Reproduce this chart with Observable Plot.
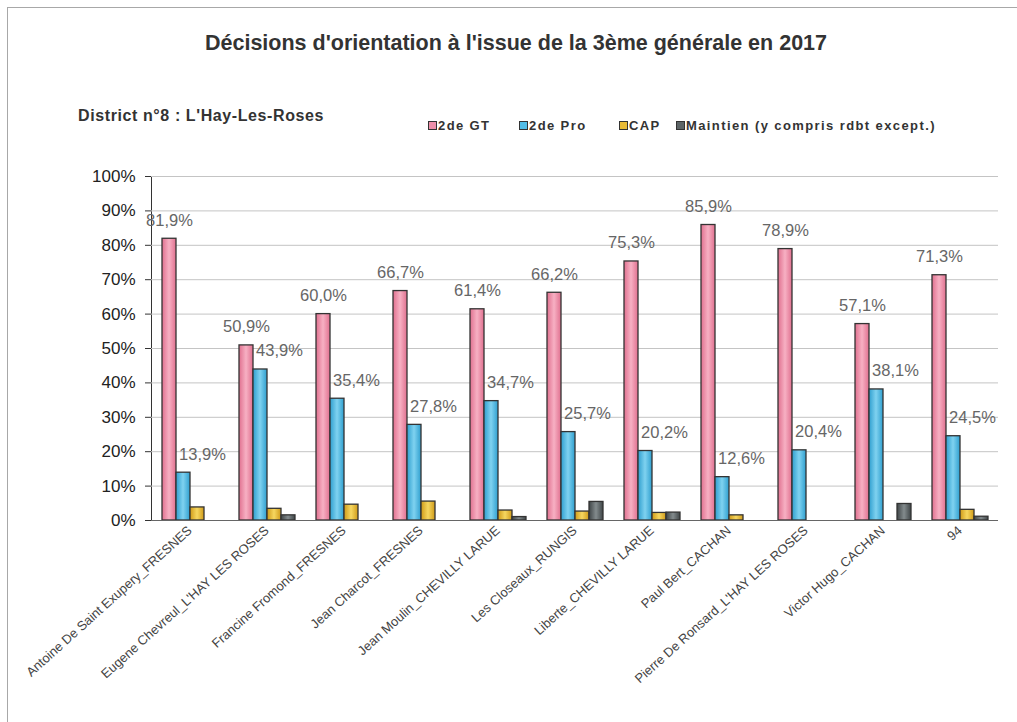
<!DOCTYPE html>
<html>
<head>
<meta charset="utf-8">
<script src="https://cdn.jsdelivr.net/npm/d3@7"></script>
<script src="https://cdn.jsdelivr.net/npm/@observablehq/plot@0.6"></script>
<style>
  html, body { margin: 0; padding: 0; background: #fff; overflow: hidden; }
  body { width: 1017px; height: 722px; position: relative; font-family: "Liberation Sans", Arial, sans-serif; }
  #frame { position: absolute; left: 7px; top: 7px; width: 1200px; height: 900px; border-left: 1.5px solid #a8a8a8; border-top: 1.5px solid #a8a8a8; }
  #title { position: absolute; left: 0; width: 1032px; top: 31px; text-align: center; font-weight: bold; font-size: 21.5px; color: #333; }
  #subtitle { position: absolute; left: 78px; top: 107px; font-weight: bold; font-size: 16px; letter-spacing: 0.6px; color: #333; }
  .leg { position: absolute; top: 118px; font-weight: bold; font-size: 13px; color: #333; white-space: nowrap; letter-spacing: 1.4px; }
  .sw { display: inline-block; width: 7px; height: 7px; border: 1px solid #333; margin-right: 1px; vertical-align: 0px; }
  #chart { position: absolute; left: 0; top: 150px; }
  #chart svg [aria-label="y-axis tick label"] { font-size: 17px; fill: #222; }
</style>
</head>
<body>
<div id="frame"></div>
<div id="title">Décisions d'orientation à l'issue de la 3ème générale en 2017</div>
<div id="subtitle">District n°8 : L'Hay-Les-Roses</div>
<div id="legend"></div>
<svg width="0" height="0" style="position:absolute">
  <defs>
    <linearGradient id="gPink" x1="0" x2="1" y1="0" y2="0">
      <stop offset="0" stop-color="#e0708f"/><stop offset="0.5" stop-color="#f7b0c3"/><stop offset="1" stop-color="#e0708f"/>
    </linearGradient>
    <linearGradient id="gBlue" x1="0" x2="1" y1="0" y2="0">
      <stop offset="0" stop-color="#2f9fcf"/><stop offset="0.5" stop-color="#7fd2f0"/><stop offset="1" stop-color="#2f9fcf"/>
    </linearGradient>
    <linearGradient id="gGold" x1="0" x2="1" y1="0" y2="0">
      <stop offset="0" stop-color="#cf9a18"/><stop offset="0.5" stop-color="#f6d760"/><stop offset="1" stop-color="#cf9a18"/>
    </linearGradient>
    <linearGradient id="gGray" x1="0" x2="1" y1="0" y2="0">
      <stop offset="0" stop-color="#3f4547"/><stop offset="0.5" stop-color="#838b8d"/><stop offset="1" stop-color="#3f4547"/>
    </linearGradient>
  </defs>
</svg>
<div id="chart"></div>
<script>
const schools = [
  "Antoine De Saint Exupery_FRESNES",
  "Eugene Chevreul_L'HAY LES ROSES",
  "Francine Fromond_FRESNES",
  "Jean Charcot_FRESNES",
  "Jean Moulin_CHEVILLY LARUE",
  "Les Closeaux_RUNGIS",
  "Liberte_CHEVILLY LARUE",
  "Paul Bert_CACHAN",
  "Pierre De Ronsard_L'HAY LES ROSES",
  "Victor Hugo_CACHAN",
  "94"
];
const series = ["2de GT", "2de Pro", "CAP", "Maintien (y compris rdbt except.)"];
const gt       = [81.9, 50.9, 60.0, 66.7, 61.4, 66.2, 75.3, 85.9, 78.9, 57.1, 71.3];
const pro      = [13.9, 43.9, 35.4, 27.8, 34.7, 25.7, 20.2, 12.6, 20.4, 38.1, 24.5];
const cap      = [3.8, 3.4, 4.6, 5.5, 2.9, 2.6, 2.2, 1.5, 0, 0, 3.1];
const maintien = [0, 1.5, 0, 0, 1.0, 5.4, 2.3, 0, 0, 4.8, 1.1];
const yTicks = [0, 10, 20, 30, 40, 50, 60, 70, 80, 90, 100];

const fills = ["url(#gPink)", "url(#gBlue)", "url(#gGold)", "url(#gGray)"];
const swatch = ["#ee8fa9", "#52bde6", "#e9bb36", "#5d6466"];

const valuesBySeries = [gt, pro, cap, maintien];
const rows = schools.flatMap((s, i) => series.map((serie, j) => ({school: s, serie, v: valuesBySeries[j][i]})));
const fmt = d => d.v.toFixed(1).replace(".", ",") + "%";

// legend
const legLeft = [428, 519, 619, 676];
const legend = document.getElementById("legend");
series.forEach((s, j) => {
  const el = document.createElement("div");
  el.className = "leg";
  el.style.left = legLeft[j] + "px";
  el.innerHTML = `<span class="sw" style="background:${swatch[j]}"></span>${s}`;
  legend.appendChild(el);
});

const chart = Plot.plot({
  width: 1017,
  height: 560,
  marginLeft: 150,
  marginRight: 19,
  marginTop: 26,
  marginBottom: 190,
  style: {fontFamily: "'Liberation Sans', Arial, sans-serif", background: "transparent", color: "#333"},
  fx: {domain: schools, padding: 0, label: null, axis: null},
  x: {domain: series, axis: null, paddingInner: 0, paddingOuter: 0.6},
  y: {domain: [0, 100], ticks: yTicks, tickFormat: d => d + "%", label: null, line: true, tickSize: 6, tickPadding: 10},
  color: {domain: series, range: fills},
  marks: [
    Plot.gridY(yTicks.slice(1), {stroke: "#c4c4c4", strokeOpacity: 1}),
    Plot.barY(rows, {fx: "school", x: "serie", y: "v", fill: "serie", stroke: "#333", strokeWidth: 1.3}),
    Plot.ruleY([0], {stroke: "#666"}),
    Plot.axisFx({anchor: "bottom", tickRotate: -42, tickSize: 0, tickPadding: 8, fontSize: 13, fill: "#444", label: null}),
    Plot.text(rows.filter(d => d.serie === series[0]), {fx: "school", x: "serie", y: "v", text: fmt, dy: -13, lineAnchor: "bottom", fontSize: 16.5, fill: "#666"}),
    Plot.text(rows.filter(d => d.serie === series[1]), {fx: "school", x: "serie", y: "v", text: fmt, dy: -13, dx: 19, lineAnchor: "bottom", fontSize: 16.5, fill: "#666"})
  ]
});
document.getElementById("chart").appendChild(chart);
</script>
</body>
</html>
